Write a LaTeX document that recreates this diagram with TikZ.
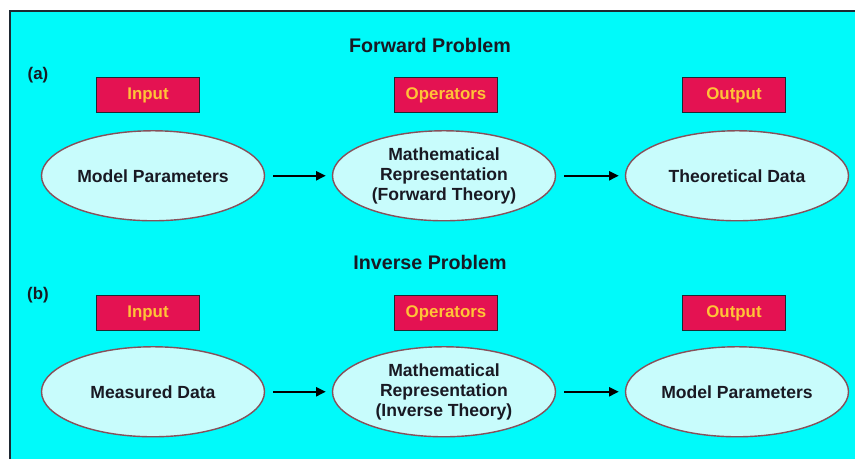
\documentclass[tikz,border=0pt]{standalone}
\usepackage{fontspec}
\setmainfont{Liberation Sans}
\usetikzlibrary{%
	arrows.meta,%
	shapes.geometric,%
	positioning,%
}
\definecolor{cbg}{RGB}{0, 250, 250}
\definecolor{cframe}{RGB}{30, 40, 50}
\definecolor{cboxred}{RGB}{228, 18, 82}
\definecolor{cboxtext}{RGB}{255, 195, 55}
\definecolor{cellfill}{RGB}{200, 252, 252}
\definecolor{celldraw}{RGB}{135, 80, 90}
\definecolor{ctext}{RGB}{25, 25, 35}
\tikzset{
	>={Triangle[length=2.4mm, width=2.2mm]},%
	nodes={align=center},%
	title/.style={%
			font={\fontsize{14}{17}\selectfont\bfseries},%
			text=ctext},%
	tag/.style={%
			font={\fontsize{12}{14}\selectfont\bfseries},%
			text=ctext},%
	rolebox/.style={%
			draw=cframe,%
			rectangle,%
			thick,%
			fill=cboxred,%
			text=cboxtext,%
			minimum width=2.575cm,%
			minimum height=0.875cm,%
			inner sep=0,%
			font={\fontsize{12}{14}\selectfont\bfseries}},%
	stage/.style={%
			draw=celldraw,%
			ellipse,%
			line width=1pt,%
			fill=cellfill,%
			text=ctext,%
			minimum width=5.575cm,%
			minimum height=2.25cm,%
			inner sep=0,%
			font={\fontsize{12.5}{14.2}\selectfont\bfseries}},%
	flow/.style={%
			->,%
			line width=1.8pt,%
			shorten <=0.2cm,%
			shorten >=0.15cm},%
}

\begin{document}
\begin{tikzpicture}
	\useasboundingbox (0,0) rectangle (21.375,-11.475);
	\fill[cbg] (0.25,-0.28) rectangle (21.375,-11.475);
	\draw[cframe, line width=1.2pt] (0.25,-11.475) -- (0.25,-0.28) -- (21.375,-0.28);

	% forward problem
	\node[title] (fwdtitle) at (10.75,-1.125) {Forward Problem};
	\node[tag] (taga) at (0.95,-1.875) {(a)};

	\node[rolebox] (fwdinput) at (3.7,-2.375) {Input};
	\node[rolebox] (fwdop) at (11.15,-2.375) {Operators};
	\node[rolebox] (fwdout) at (18.35,-2.375) {Output};

	\node[stage, below=0.425cm of fwdinput, xshift=0.125cm] (fwdmodel) {Model Parameters};
	\node[stage, below=0.425cm of fwdop, xshift=-0.05cm] (fwdmath) {Mathematical\\Representation\\(Forward Theory)};
	\node[stage, below=0.425cm of fwdout, xshift=0.075cm] (fwddata) {Theoretical Data};

	\draw[flow] (fwdmodel) to (fwdmath);
	\draw[flow] (fwdmath) to (fwddata);

	% inverse problem
	\node[title] (invtitle) at (10.75,-6.55) {Inverse Problem};
	\node[tag] (tagb) at (0.95,-7.375) {(b)};

	\node[rolebox] (invinput) at (3.7,-7.825) {Input};
	\node[rolebox] (invop) at (11.15,-7.825) {Operators};
	\node[rolebox] (invout) at (18.35,-7.825) {Output};

	\node[stage, below=0.375cm of invinput, xshift=0.125cm] (invdata) {Measured Data};
	\node[stage, below=0.375cm of invop, xshift=-0.05cm] (invmath) {Mathematical\\Representation\\(Inverse Theory)};
	\node[stage, below=0.375cm of invout, xshift=0.075cm] (invmodel) {Model Parameters};

	\draw[flow] (invdata) to (invmath);
	\draw[flow] (invmath) to (invmodel);
\end{tikzpicture}
\end{document}
